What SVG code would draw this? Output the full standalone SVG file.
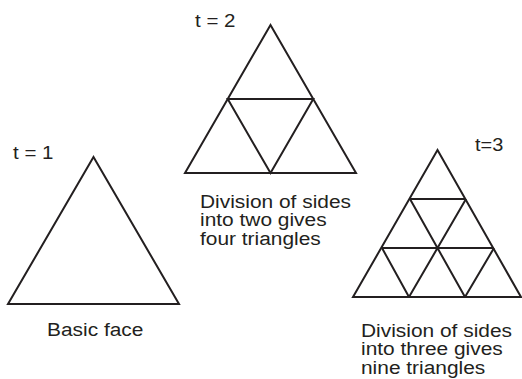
<svg xmlns="http://www.w3.org/2000/svg" width="522" height="379" viewBox="0 0 522 379">
<style>
.ln{fill:none;stroke:#231f20;stroke-width:2;stroke-linejoin:miter}
.tx{font-family:"Liberation Sans",Arial,sans-serif;font-size:19px;fill:#231f20}
</style>
<rect width="522" height="379" fill="#fff"/>
<g id="face1">
<polygon class="ln" points="93.5,157 179,304 8,304"/>
<text class="tx" transform="translate(13,159) scale(1.08 1)">t = 1</text>
<text class="tx" transform="translate(47,336) scale(1.1 1)">Basic face</text>
</g>
<g id="face2">
<polygon class="ln" points="270.5,25 356,173 185,173"/>
<polygon class="ln" points="227.75,99 313.25,99 270.5,173"/>
<text class="tx" transform="translate(195,27) scale(1.08 1)">t = 2</text>
<text class="tx" transform="translate(200,208) scale(1.1 1)"><tspan x="0" y="0">Division of sides</tspan><tspan x="0" y="18.5">into two gives</tspan><tspan x="0" y="37">four triangles</tspan></text>
</g>
<g id="face3">
<polygon class="ln" points="437.5,150 521,297 353,297"/>
<path class="ln" d="M410,199H466M382,248H494M409,297L466,199M465,297L494,248M465,297L410,199M409,297L382,248"/>
<text class="tx" transform="translate(475,151) scale(1.05 1)">t=3</text>
<text class="tx" transform="translate(361,337) scale(1.1 1)"><tspan x="0" y="0">Division of sides</tspan><tspan x="0" y="18.5">into three gives</tspan><tspan x="0" y="37">nine triangles</tspan></text>
</g>
<g id="connectors"></g>
</svg>
